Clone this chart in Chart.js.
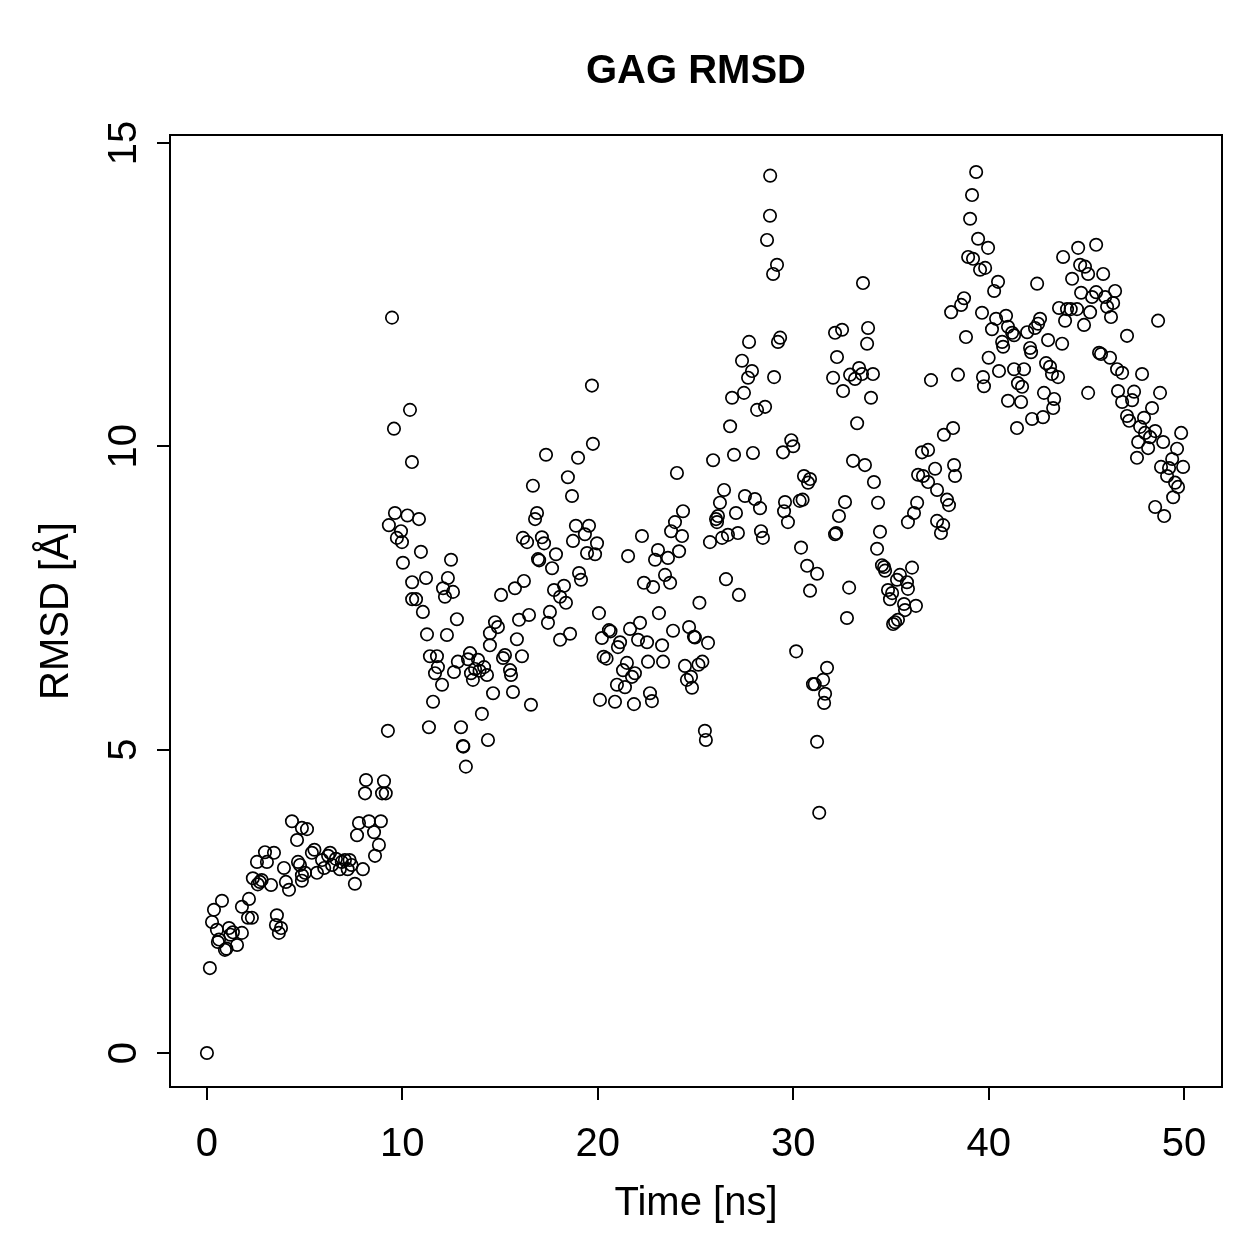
<!DOCTYPE html>
<html>
<head>
<meta charset="utf-8">
<script src="https://cdn.jsdelivr.net/npm/chart.js@4"></script>
<style>
  html, body { margin: 0; padding: 0; background: #fff; }
  #wrap { width: 1259px; height: 1259px; }
</style>
</head>
<body>
<div id="wrap"><canvas id="c" width="1259" height="1259"></canvas></div>
<script>
// ---- data: [time (ns), RMSD (Å)] ----
const seg0to10 = [[0,0],[0.15,1.40],[0.26,2.16],[0.36,2.36],[0.51,2.03],[0.56,1.83],[0.62,1.87],[0.77,2.51],[0.92,1.70],[1.0,1.72],[1.13,2.06],[1.2,1.95],[1.33,1.99],[1.54,1.78],[1.79,1.98],[1.79,2.41],[2.10,2.23],[2.15,2.54],[2.30,2.23],[2.35,2.88],[2.56,3.15],[2.6,2.78],[2.71,2.82],[2.8,2.85],[2.97,3.31],[3.07,3.15],[3.28,2.77],[3.43,3.30],[3.53,2.11],[3.58,2.27],[3.68,1.98],[3.79,2.06],[3.94,3.05],[4.04,2.82],[4.20,2.69],[4.35,3.82],[4.61,3.51],[4.66,3.15],[4.76,3.10],[4.86,2.93],[4.86,2.84],[4.86,3.71],[5.02,2.97],[5.12,3.69],[5.37,3.30],[5.5,3.35],[5.63,2.97],[5.89,3.18],[6.0,3.05],[6.2,3.25],[6.3,3.30],[6.4,3.10],[6.6,3.20],[6.8,3.03],[6.9,3.15],[7.06,3.18],[7.2,3.03],[7.3,3.18],[7.4,3.10],[7.57,2.79],[7.68,3.59],[7.78,3.79],[7.98,3.03],[8.09,4.28],[8.14,4.50],[8.29,3.82],[8.55,3.64],[8.6,3.25],[8.8,3.43],[8.9,3.82],[8.96,4.28],[9.06,4.48],[9.15,4.28],[9.26,5.31],[9.31,8.70],[9.47,12.12],[9.57,10.29],[9.62,8.90],[9.72,8.49],[9.93,8.60],[9.98,8.42]];
const seg10to20 = [[10.03,8.08],[10.26,8.86],[10.39,10.60],[10.49,9.74],[10.5,7.76],[10.5,7.48],[10.7,7.48],[10.85,8.80],[10.95,8.26],[11.05,7.27],[11.21,7.83],[11.26,6.90],[11.36,5.37],[11.41,6.54],[11.57,5.79],[11.67,6.26],[11.77,6.54],[11.82,6.36],[12.03,6.07],[12.08,7.66],[12.18,7.52],[12.28,6.89],[12.33,7.83],[12.49,8.13],[12.59,7.60],[12.64,6.28],[12.79,7.15],[12.84,6.45],[13.0,5.37],[13.1,5.06],[13.12,5.05],[13.25,4.72],[13.36,6.49],[13.46,6.59],[13.51,6.26],[13.61,6.15],[13.72,6.33],[13.87,6.48],[13.95,6.30],[14.07,5.59],[14.18,6.36],[14.33,6.23],[14.38,5.16],[14.48,6.92],[14.48,6.72],[14.64,5.93],[14.74,7.10],[14.89,7.02],[15.05,7.55],[15.15,6.51],[15.25,6.56],[15.51,6.31],[15.56,6.23],[15.66,5.95],[15.76,7.66],[15.86,6.82],[15.97,7.14],[16.12,6.54],[16.17,8.49],[16.22,7.78],[16.38,8.42],[16.48,7.22],[16.58,5.74],[16.68,9.35],[16.79,8.80],[16.89,8.90],[16.94,8.14],[17.0,8.12],[17.14,8.50],[17.25,8.40],[17.35,9.86],[17.45,7.09],[17.55,7.27],[17.66,7.99],[17.76,7.63],[17.86,8.22],[18.07,7.52],[18.07,6.81],[18.27,7.70],[18.37,7.42],[18.47,9.49],[18.58,6.91],[18.68,9.18],[18.73,8.44],[18.88,8.69],[18.99,9.81],[19.04,7.91],[19.14,7.80],[19.34,8.55],[19.45,8.24],[19.55,8.69],[19.70,11.00],[19.75,10.04],[19.86,8.22],[19.96,8.40]];
const seg20to30 = [[20.06,7.25],[20.11,5.82],[20.21,6.84],[20.3,6.53],[20.45,6.50],[20.57,6.97],[20.65,6.95],[20.88,5.79],[20.98,6.07],[21.03,6.69],[21.14,6.77],[21.29,6.31],[21.39,6.03],[21.49,6.43],[21.55,8.19],[21.65,6.99],[21.75,6.20],[21.85,5.75],[21.90,6.26],[22.06,6.81],[22.16,7.09],[22.26,8.52],[22.36,7.75],[22.52,6.77],[22.57,6.45],[22.67,5.93],[22.77,5.80],[22.83,7.68],[22.93,8.13],[23.08,8.29],[23.13,7.25],[23.29,6.72],[23.34,6.45],[23.44,7.88],[23.59,8.16],[23.70,7.75],[23.75,8.60],[23.85,6.96],[23.95,8.75],[24.05,9.56],[24.16,8.27],[24.31,8.52],[24.36,8.93],[24.46,6.38],[24.56,6.15],[24.67,7.02],[24.77,6.20],[24.82,6.02],[24.92,6.86],[24.97,6.85],[25.15,6.40],[25.20,7.42],[25.35,6.45],[25.48,5.31],[25.53,5.16],[25.64,6.76],[25.74,8.42],[25.90,9.77],[26.05,8.80],[26.10,8.75],[26.15,8.85],[26.25,9.07],[26.36,8.49],[26.46,9.28],[26.56,7.81],[26.66,8.54],[26.77,10.33],[26.87,10.80],[26.97,9.86],[27.07,8.90],[27.17,8.57],[27.22,7.55],[27.38,11.41],[27.48,10.88],[27.53,9.18],[27.69,11.13],[27.74,11.72],[27.89,11.24],[27.94,9.89],[28.04,9.13],[28.15,10.60],[28.30,8.98],[28.35,8.60],[28.45,8.49],[28.56,10.65],[28.66,13.40],[28.81,13.80],[28.82,14.46],[28.97,12.84],[29.02,11.14],[29.17,12.99],[29.22,11.72],[29.33,11.79],[29.48,9.90],[29.53,8.93],[29.58,9.08],[29.73,8.75],[29.90,10.10]];
const seg30to40 = [[30.00,10.00],[30.15,6.62],[30.33,9.10],[30.40,8.33],[30.48,9.12],[30.55,9.51],[30.71,8.03],[30.76,9.40],[30.86,9.46],[30.86,7.62],[31.01,6.08],[31.10,6.08],[31.22,7.90],[31.22,5.13],[31.33,3.96],[31.53,6.15],[31.58,5.77],[31.63,5.92],[31.73,6.35],[32.04,11.13],[32.14,11.87],[32.14,8.55],[32.20,8.57],[32.24,11.47],[32.34,8.85],[32.50,11.92],[32.55,10.91],[32.65,9.08],[32.75,7.17],[32.86,7.67],[32.91,11.18],[33.06,9.76],[33.16,11.11],[33.27,10.38],[33.37,11.29],[33.52,11.19],[33.57,12.69],[33.67,9.69],[33.78,11.69],[33.83,11.95],[33.98,10.80],[34.08,11.19],[34.13,9.41],[34.29,8.31],[34.34,9.07],[34.44,8.59],[34.54,8.04],[34.65,8.01],[34.70,7.95],[34.85,7.63],[34.95,7.48],[35.06,7.58],[35.11,7.07],[35.21,7.10],[35.31,7.80],[35.36,7.14],[35.46,7.88],[35.67,7.40],[35.72,7.30],[35.82,7.76],[35.87,7.65],[35.87,8.75],[36.08,8.00],[36.18,8.90],[36.28,7.37],[36.34,9.07],[36.39,9.53],[36.59,9.90],[36.64,9.51],[36.90,9.94],[36.90,9.41],[37.05,11.09],[37.26,9.63],[37.36,9.28],[37.36,8.77],[37.56,8.57],[37.67,8.70],[37.71,10.19],[37.87,9.12],[37.97,9.03],[38.08,12.21],[38.18,10.30],[38.23,9.69],[38.28,9.51],[38.43,11.18],[38.59,12.33],[38.74,12.44],[38.84,11.80],[38.95,13.12],[39.05,13.75],[39.15,14.14],[39.20,13.09],[39.36,14.52],[39.46,13.42],[39.56,12.91],[39.66,12.20],[39.71,11.14],[39.76,10.99],[39.82,12.94],[39.97,13.27]];
const seg40to50 = [[40.00,11.46],[40.17,11.93],[40.28,12.56],[40.38,12.10],[40.48,12.71],[40.53,11.24],[40.69,11.72],[40.74,11.64],[40.89,12.15],[40.99,11.97],[40.99,10.75],[41.20,11.87],[41.30,11.83],[41.30,11.27],[41.45,10.30],[41.50,11.04],[41.66,10.73],[41.71,10.98],[41.81,11.27],[41.97,11.88],[42.12,11.62],[42.17,11.55],[42.22,10.45],[42.37,11.95],[42.48,12.68],[42.53,12.02],[42.63,12.10],[42.78,10.48],[42.83,10.88],[42.94,11.37],[43.04,11.75],[43.14,11.31],[43.24,11.19],[43.30,10.63],[43.35,10.78],[43.55,11.14],[43.60,12.28],[43.76,11.69],[43.81,13.12],[43.91,12.07],[44.01,12.26],[44.20,12.26],[44.27,12.76],[44.52,12.26],[44.58,13.27],[44.68,12.99],[44.73,12.53],[44.88,12.00],[44.93,12.96],[45.09,12.84],[45.09,10.88],[45.19,12.21],[45.29,12.46],[45.50,13.32],[45.50,12.54],[45.65,11.54],[45.75,11.52],[45.86,12.84],[45.96,12.46],[46.06,12.30],[46.21,11.46],[46.26,12.13],[46.37,12.36],[46.47,12.56],[46.57,11.27],[46.62,10.91],[46.83,11.21],[46.83,10.73],[47.08,11.82],[47.08,10.50],[47.19,10.42],[47.34,10.76],[47.44,10.90],[47.59,9.81],[47.65,10.07],[47.75,10.32],[47.85,11.19],[47.95,10.47],[48.00,10.22],[48.16,9.97],[48.26,10.15],[48.36,10.63],[48.52,10.25],[48.52,9.00],[48.67,12.07],[48.77,10.88],[48.82,9.66],[48.93,10.07],[48.98,8.85],[49.13,9.51],[49.23,9.64],[49.39,9.79],[49.44,9.16],[49.54,9.40],[49.64,9.96],[49.69,9.33],[49.85,10.22],[49.95,9.66]];

const xTickValues = [0, 10, 20, 30, 40, 50];
const yTickValues = [0, 5, 10, 15];
const titleText = "GAG RMSD";
const xAxisTitle = "Time [ns]";
const yAxisTitle = "RMSD [Å]";

// ---- chart ----
const allPoints = [].concat(seg0to10, seg10to20, seg20to30, seg30to40, seg40to50)
  .map(p => ({ x: p[0], y: p[1] }));

const FONT = "'Liberation Sans', Arial, Helvetica, sans-serif";
const W = 1259, H = 1259;
const AREA = { left: 170, right: 1222, top: 135, bottom: 1087 };

const decorPlugin = {
  id: 'decor',
  afterDraw(chart) {
    const ctx = chart.ctx;
    const ca = chart.chartArea;
    const xs = chart.scales.x, ys = chart.scales.y;
    ctx.save();
    ctx.strokeStyle = '#000';
    ctx.lineWidth = 2;
    ctx.strokeRect(ca.left, ca.top, ca.right - ca.left, ca.bottom - ca.top);
    ctx.fillStyle = '#000';
    ctx.font = 'bold 40px ' + FONT;
    ctx.textAlign = 'center';
    ctx.textBaseline = 'alphabetic';
    ctx.fillText(titleText, (ca.left + ca.right) / 2, 83);
    ctx.font = '40px ' + FONT;
    xTickValues.forEach(v => {
      ctx.fillText(String(v), xs.getPixelForValue(v), 1156);
    });
    ctx.fillText(xAxisTitle, (ca.left + ca.right) / 2, 1215);
    yTickValues.forEach(v => {
      ctx.save();
      ctx.translate(136, ys.getPixelForValue(v));
      ctx.rotate(-Math.PI / 2);
      ctx.fillText(String(v), 0, 0);
      ctx.restore();
    });
    ctx.save();
    ctx.translate(68, (ca.top + ca.bottom) / 2);
    ctx.rotate(-Math.PI / 2);
    ctx.fillText(yAxisTitle, 0, 0);
    ctx.restore();
    ctx.restore();
  }
};

new Chart(document.getElementById('c'), {
  type: 'scatter',
  data: {
    datasets: [{
      data: allPoints,
      pointStyle: 'circle',
      pointRadius: 6.2,
      pointHoverRadius: 6.2,
      pointBorderWidth: 1.7,
      borderColor: '#000',
      backgroundColor: 'rgba(0,0,0,0)',
      pointBackgroundColor: 'rgba(0,0,0,0)',
      pointBorderColor: '#000'
    }]
  },
  options: {
    responsive: false,
    animation: false,
    devicePixelRatio: 1,
    layout: { padding: { left: 0, right: W - AREA.right, top: AREA.top, bottom: 0 } },
    plugins: { legend: { display: false }, title: { display: false }, tooltip: { enabled: false } },
    scales: {
      x: {
        type: 'linear',
        position: 'bottom',
        min: -1.89,
        max: 51.94,
        afterBuildTicks: s => { s.ticks = xTickValues.map(v => ({ value: v })); },
        afterFit: s => { s.height = H - AREA.bottom; },
        ticks: { display: false },
        grid: { drawOnChartArea: false, drawTicks: true, tickLength: 13, color: '#000', lineWidth: 2 },
        border: { display: true, color: '#000', width: 2 }
      },
      y: {
        type: 'linear',
        position: 'left',
        min: -0.56,
        max: 15.13,
        afterBuildTicks: s => { s.ticks = yTickValues.map(v => ({ value: v })); },
        afterFit: s => { s.width = AREA.left; },
        ticks: { display: false },
        grid: { drawOnChartArea: false, drawTicks: true, tickLength: 13, color: '#000', lineWidth: 2 },
        border: { display: true, color: '#000', width: 2 }
      }
    }
  },
  plugins: [decorPlugin]
});
</script>
</body>
</html>
